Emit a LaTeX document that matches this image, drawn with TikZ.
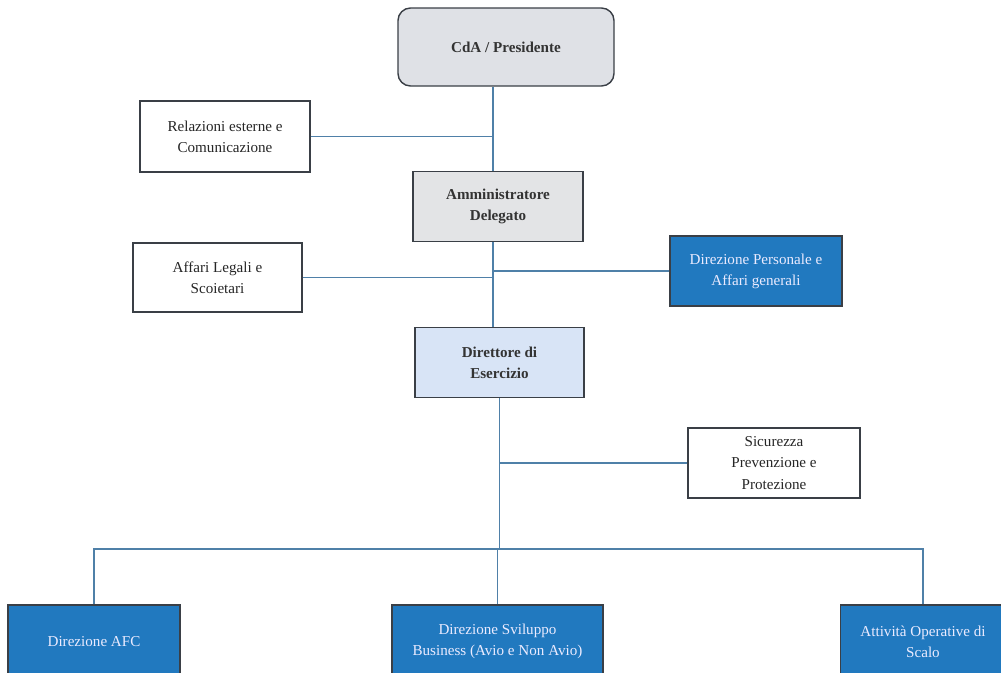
\documentclass[tikz,border=0pt]{standalone}
\usepackage{fontspec}
\setmainfont{Liberation Serif}
\usetikzlibrary{positioning}

\definecolor{linkblue}{HTML}{4F80A8}
\definecolor{boxline}{HTML}{3A3F46}
\definecolor{topgray}{HTML}{DFE1E6}
\definecolor{ammgray}{HTML}{E3E4E6}
\definecolor{dirblue}{HTML}{D8E4F6}
\definecolor{unitblue}{HTML}{2179BF}

\begin{document}
\begin{tikzpicture}
                [
                    unit/.style = {rectangle, draw=boxline, line width=0.8pt, fill=white, text=black!85, align=center, minimum width=3.4cm, minimum height=1.4cm, font=\fontsize{8.6}{12}\selectfont},
                    head/.style = {unit, fill=ammgray, font=\fontsize{8.6}{12}\selectfont\bfseries, text=black!80},
                    dept/.style = {unit, fill=unitblue, text=white!92!blue},
                    link/.style = {linkblue, line width=0.9pt}
                ]
                \clip (0,0) rectangle (20.02,-13.44);

                \node (cda) [head, fill=topgray, rounded corners=0.25cm, minimum width=4.32cm, minimum height=1.56cm] at (10.12,-0.94) {CdA / Presidente};
                \node (rel) [unit, minimum height=1.42cm] at (4.5,-2.73) {Relazioni esterne e\\Comunicazione};
                \node (amm) [head] at (9.96,-4.13) {Amministratore\\Delegato};
                \node (leg) [unit, minimum width=3.38cm, minimum height=1.38cm] at (4.35,-5.55) {Affari Legali e\\Scoietari};
                \node (pers) [dept, minimum width=3.44cm] at (15.12,-5.42) {Direzione Personale e\\Affari generali};
                \node (dir) [head, fill=dirblue, minimum width=3.38cm] at (9.99,-7.25) {Direttore di\\Esercizio};
                \node (sic) [unit, minimum width=3.44cm] at (15.48,-9.26) {Sicurezza\\Prevenzione e\\Protezione};

                \node (afc) [dept, minimum width=3.44cm, minimum height=1.46cm] at (1.88,-12.83) {Direzione AFC};
                \node (svil) [dept, minimum width=4.22cm, minimum height=1.46cm] at (9.95,-12.83) {Direzione Sviluppo\\Business (Avio e Non Avio)};
                \node (att) [dept, minimum width=3.3cm, minimum height=1.46cm] at (18.46,-12.83) {Attività Operative di\\Scalo};

                \coordinate (axis) at (9.86,0);
                \coordinate (bar) at (9.99,-10.98);

                \draw[link] (cda.south -| axis) -- (amm.north -| axis);
                \draw[link] (amm.south -| axis) -- (dir.north -| axis);
                \draw[link] (rel.east) -- (rel.east -| axis);
                \draw[link] (leg.east) -- (leg.east -| axis);
                \draw[link] (pers.west) -- (pers.west -| axis);

                \draw[link] (dir.south) -- (bar);
                \draw[link] (sic.west) -- (sic.west -| dir.south);
                \draw[link] (afc.north) |- (bar) -| (att.north);
                \draw[link] (svil.north) -- (svil.north |- bar);

            \end{tikzpicture}
\end{document}
